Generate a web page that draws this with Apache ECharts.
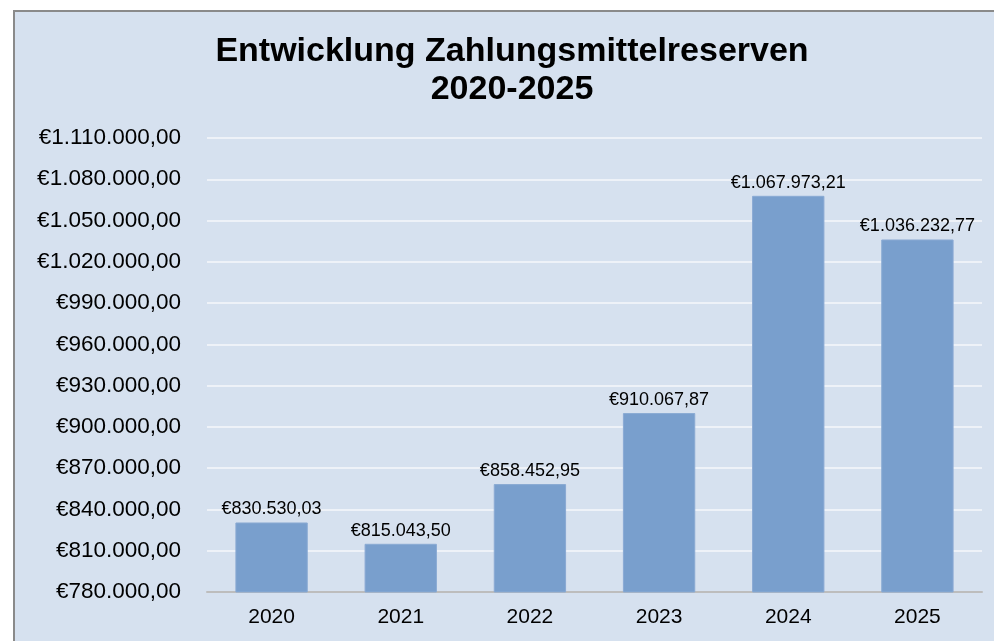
<!DOCTYPE html>
<html>
<head>
<meta charset="utf-8">
<script src="https://cdn.jsdelivr.net/npm/echarts@6/dist/echarts.min.js"></script>
<style>
    body{ margin:0; background:#fff; overflow:hidden; }
    .panel{ position:absolute; left:13px; top:10px; width:1000px; height:700px; border:2px solid #8a8a8a; background:#d6e1ef; }
    #chart{ position:absolute; left:0; top:0; width:994px; height:641px; }
</style>
</head>
<body>
<div class="panel"></div>
<div id="chart"></div>
<script>
var years = ['2020', '2021', '2022', '2023', '2024', '2025'];
var reserves = [830530.03, 815043.50, 858452.95, 910067.87, 1067973.21, 1036232.77];
var axisMin = 780000;
var axisMax = 1110000;
var axisStep = 30000;

// deutsches Zahlenformat mit Euro-Zeichen
function euro(v){
    var parts = Number(v).toFixed(2).split('.');
    var int = parts[0].replace(/\B(?=(\d{3})+(?!\d))/g, '.');
    return '€' + int + ',' + parts[1];
}

var chart = echarts.init(document.getElementById('chart'));
chart.setOption({
    backgroundColor: 'transparent',
    textStyle: { fontFamily: '"Liberation Sans", Arial, sans-serif' },
    title: {
        text: 'Entwicklung Zahlungsmittelreserven\n2020-2025',
        left: 507,
        top: 28,
        textAlign: 'center',
        textStyle: {
            fontSize: 34,
            fontWeight: 'bold',
            color: '#000',
            lineHeight: 38,
            fontFamily: '"Liberation Sans", Arial, sans-serif'
        }
    },
    grid: { left: 207, right: 12, top: 138, bottom: 49 },
    xAxis: {
        type: 'category',
        data: years,
        axisTick: { show: false },
        axisLine: { lineStyle: { color: '#bdbdbd', width: 2 } },
        axisLabel: { fontSize: 21, color: '#000', margin: 15 }
    },
    yAxis: {
        type: 'value',
        min: axisMin,
        max: axisMax,
        interval: axisStep,
        axisLine: { show: false },
        axisTick: { show: false },
        splitLine: { lineStyle: { color: '#eef2f8', width: 2 } },
        axisLabel: {
            fontSize: 22.5,
            color: '#000',
            margin: 26,
            formatter: euro
        }
    },
    series: [{
        type: 'bar',
        data: reserves,
        barWidth: '56%',
        itemStyle: { color: '#799fcd', borderColor: '#8aaad3', borderWidth: 1 },
        label: {
            show: true,
            position: 'top',
            distance: 4,
            fontSize: 18,
            color: '#000',
            formatter: function(p){ return euro(p.value); }
        }
    }]
});
</script>
</body>
</html>
